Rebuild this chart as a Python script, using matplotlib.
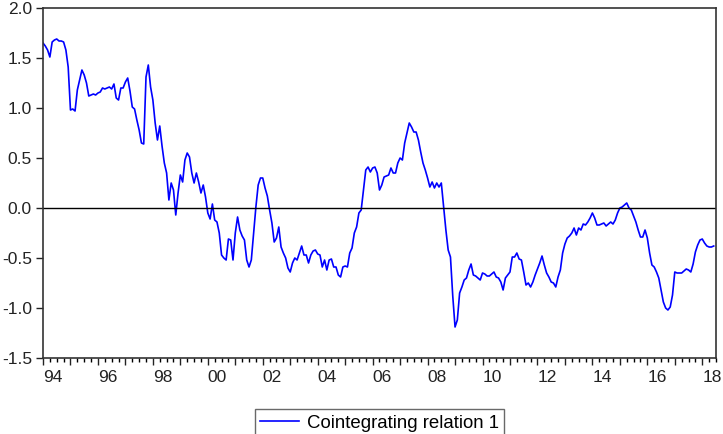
import numpy as np
import matplotlib
matplotlib.use("Agg")
import matplotlib.pyplot as plt
from matplotlib.ticker import MultipleLocator, FuncFormatter

plt.rcParams['font.family'] = ['Liberation Sans', 'DejaVu Sans']
plt.rcParams['axes.unicode_minus'] = False

# monthly sample 1994M01 - 2018M06
start_year = 1994
series_name = 'Cointegrating relation 1'
coint = [
    1.65, 1.62, 1.58, 1.51, 1.66, 1.68, 1.69, 1.67, 1.67, 1.66, 1.58, 1.41,
    0.98, 0.99, 0.97, 1.18, 1.28, 1.38, 1.33, 1.25, 1.12, 1.13, 1.14, 1.13,
    1.15, 1.16, 1.20, 1.19, 1.20, 1.21, 1.19, 1.24, 1.10, 1.08, 1.20, 1.20,
    1.26, 1.30, 1.17, 1.01, 0.99, 0.88, 0.78, 0.65, 0.64, 1.31, 1.43, 1.21,
    1.08, 0.85, 0.68, 0.82, 0.62, 0.45, 0.35, 0.08, 0.25, 0.18, -0.07, 0.15,
    0.33, 0.26, 0.48, 0.55, 0.51, 0.35, 0.25, 0.35, 0.26, 0.15, 0.23, 0.11,
    -0.05, -0.11, 0.04, -0.12, -0.14, -0.25, -0.47, -0.50, -0.52, -0.31, -0.32, -0.52,
    -0.25, -0.09, -0.22, -0.28, -0.32, -0.52, -0.59, -0.52, -0.25, 0.01, 0.23, 0.30,
    0.30, 0.20, 0.12, -0.02, -0.15, -0.34, -0.30, -0.19, -0.39, -0.45, -0.50, -0.60,
    -0.64, -0.55, -0.50, -0.52, -0.45, -0.38, -0.47, -0.47, -0.55, -0.47, -0.43, -0.42,
    -0.46, -0.47, -0.59, -0.52, -0.62, -0.52, -0.51, -0.59, -0.59, -0.67, -0.69, -0.59,
    -0.58, -0.59, -0.45, -0.40, -0.25, -0.19, -0.05, -0.02, 0.18, 0.38, 0.41, 0.36,
    0.40, 0.41, 0.35, 0.18, 0.23, 0.31, 0.32, 0.33, 0.40, 0.35, 0.35, 0.45,
    0.50, 0.48, 0.65, 0.75, 0.85, 0.81, 0.76, 0.76, 0.68, 0.56, 0.45, 0.38,
    0.30, 0.21, 0.26, 0.20, 0.25, 0.21, 0.25, 0.01, -0.22, -0.42, -0.49, -0.88,
    -1.19, -1.12, -0.85, -0.79, -0.72, -0.70, -0.62, -0.56, -0.67, -0.68, -0.70, -0.72,
    -0.65, -0.66, -0.68, -0.68, -0.66, -0.64, -0.69, -0.70, -0.74, -0.82, -0.70, -0.67,
    -0.64, -0.49, -0.49, -0.45, -0.51, -0.52, -0.64, -0.77, -0.75, -0.79, -0.74, -0.67,
    -0.61, -0.55, -0.48, -0.57, -0.65, -0.69, -0.74, -0.75, -0.79, -0.69, -0.62, -0.45,
    -0.36, -0.30, -0.28, -0.25, -0.20, -0.27, -0.20, -0.22, -0.16, -0.17, -0.14, -0.10,
    -0.05, -0.10, -0.17, -0.17, -0.16, -0.15, -0.18, -0.16, -0.14, -0.16, -0.12, -0.05,
    0.00, 0.01, 0.03, 0.05, 0.00, -0.02, -0.08, -0.14, -0.22, -0.29, -0.29, -0.22,
    -0.30, -0.45, -0.57, -0.59, -0.64, -0.70, -0.82, -0.94, -1.00, -1.02, -0.99, -0.87,
    -0.64, -0.65, -0.65, -0.65, -0.63, -0.61, -0.62, -0.64, -0.56, -0.44, -0.37, -0.32,
    -0.31, -0.35, -0.38, -0.39, -0.39, -0.38,
]

dates = start_year + np.arange(len(coint)) / 12.0

fig = plt.figure(figsize=(7.23, 4.34), dpi=100)
ax = fig.add_axes([43/723, 1-358/434, (716-43)/723, 350/434])

ax.plot(dates, coint, color='#0000ff', lw=1.2, label=series_name)
ax.axhline(0, color='black', lw=1.0)

ax.set_xlim(1994, 2018.5)
ax.set_ylim(-1.5, 2.0)
ax.yaxis.set_major_locator(MultipleLocator(0.5))
ax.yaxis.set_major_formatter(FuncFormatter(lambda v, p: '%.1f' % v))
ax.xaxis.set_major_locator(MultipleLocator(1))
ax.xaxis.set_minor_locator(MultipleLocator(0.25))
ax.xaxis.set_major_formatter(FuncFormatter(
    lambda v, p: ('%02d' % (int(round(v)) % 100)) if int(round(v)) % 2 == 0 else ''))
ax.tick_params(axis='both', direction='out', labelsize=12.5, colors='#222222', width=1)
ax.tick_params(axis='x', which='major', length=5, pad=4)
ax.tick_params(axis='x', which='minor', length=3, width=1)
ax.tick_params(axis='y', length=5, pad=3)
for lab in ax.get_xticklabels():
    lab.set_ha('left')
for s in ax.spines.values():
    s.set_color('#333333')
    s.set_linewidth(1.2)

leg = ax.legend(loc='upper center', bbox_to_anchor=(0.5, -0.146), fontsize=13.4,
                frameon=True, fancybox=False, edgecolor='#444444', handlelength=2.1,
                handletextpad=0.4, borderpad=0.3, borderaxespad=0)
leg.get_frame().set_linewidth(1.0)

fig.savefig('out.png', dpi=100)
